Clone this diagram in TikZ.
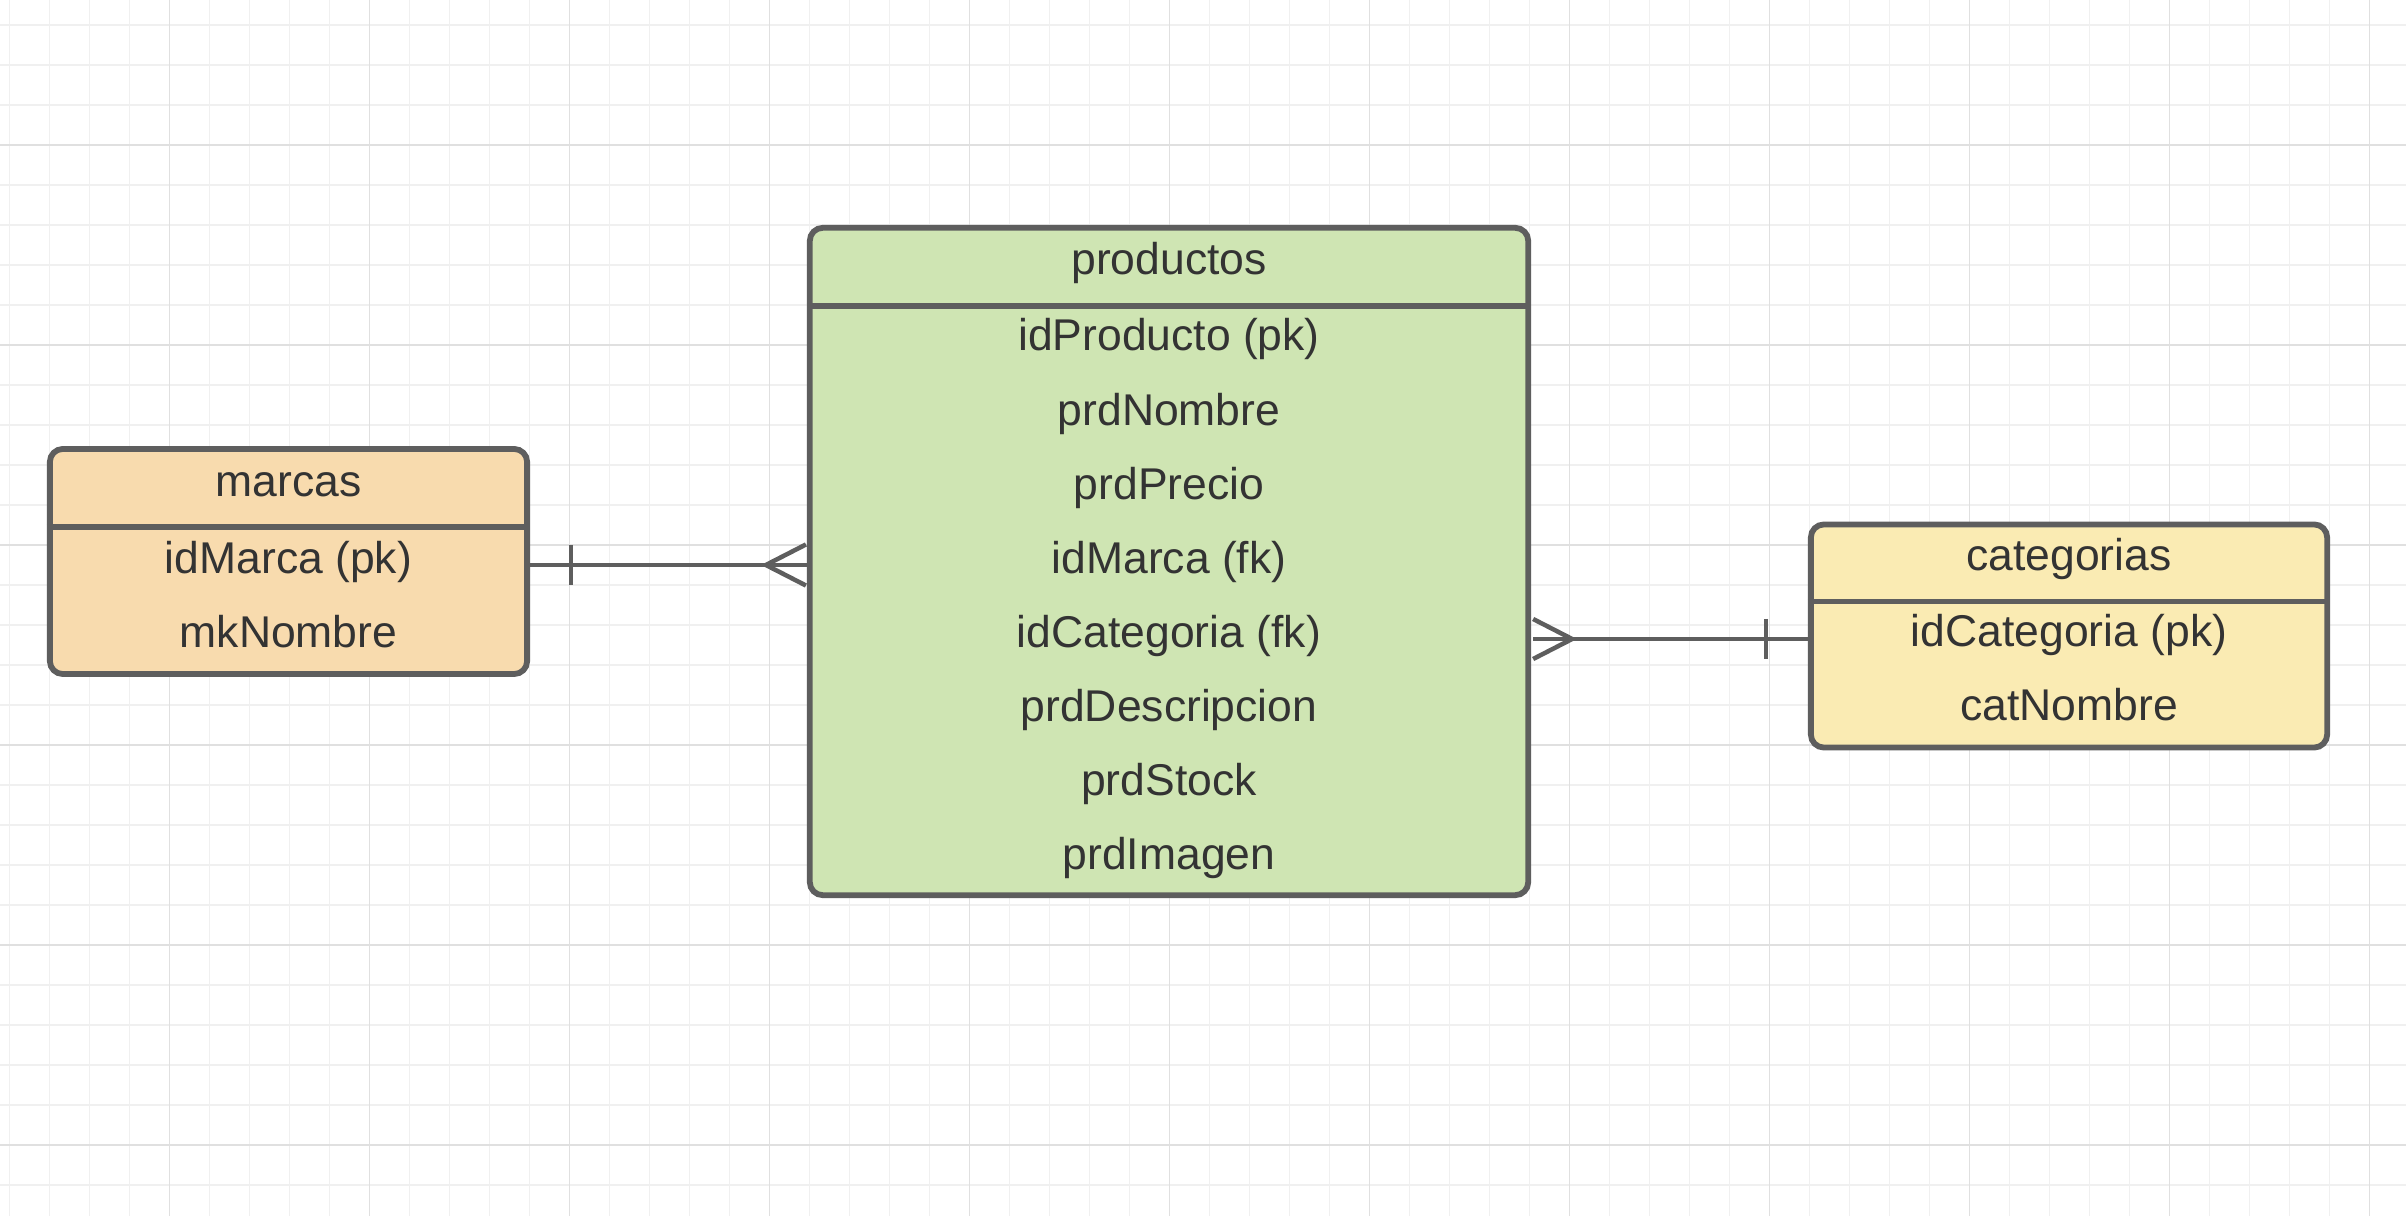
\documentclass[tikz,border=0pt]{standalone}
\usepackage{fontspec}
\setmainfont{Liberation Sans}
\usepackage{tikz}
\usetikzlibrary{calc}
\definecolor{tblborder}{HTML}{5E5E5E}
\definecolor{tbltext}{HTML}{333333}
\definecolor{mrcfill}{HTML}{F8DBAE}
\definecolor{prdfill}{HTML}{CFE5B3}
\definecolor{catfill}{HTML}{FAEBB3}
\definecolor{gridminor}{HTML}{F0F0F0}
\definecolor{gridmajor}{HTML}{E0E0E0}

\begin{document}
\begin{tikzpicture}[x=0.01cm, y=-0.01cm,
    tbl/.style={draw=tblborder, line width=0.058cm, rounded corners=0.13cm, inner sep=0pt},
    hdrule/.style={draw=tblborder, line width=0.055cm},
    fld/.style={anchor=base, inner sep=0pt, text=tbltext, font=\fontsize{12.65pt}{15pt}\selectfont},
    lnk/.style={draw=tblborder, line width=0.045cm}]
  \fill[white] (0,0) rectangle (2406,1216);
  \useasboundingbox (0,0) rectangle (2406,1216);
  % grid behind everything
  \foreach \gx in {9.5,49.5,...,2406} \draw[gridminor, line width=0.012cm] (\gx,0) -- (\gx,1216);
  \foreach \gy in {25,65,...,1216} \draw[gridminor, line width=0.012cm] (0,\gy) -- (2406,\gy);
  \foreach \gx in {169.5,369.5,...,2406} \draw[gridmajor, line width=0.015cm] (\gx,0) -- (\gx,1216);
  \foreach \gy in {145,345,...,1216} \draw[gridmajor, line width=0.015cm] (0,\gy) -- (2406,\gy);

  % tables
  \node[tbl, fill=mrcfill, minimum width=4.77cm, minimum height=2.25cm] (mrc) at (288.5,561.5) {};
  \node[tbl, fill=prdfill, minimum width=7.18cm, minimum height=6.67cm] (prd) at (1169,561.5) {};
  \node[tbl, fill=catfill, minimum width=5.16cm, minimum height=2.23cm] (cat) at (2069,636) {};
  \draw[hdrule] ([yshift=-0.81cm]mrc.north west) -- ([yshift=-0.81cm]mrc.north east);
  \draw[hdrule] ([yshift=-0.81cm]prd.north west) -- ([yshift=-0.81cm]prd.north east);
  \draw[hdrule] ([yshift=-0.80cm]cat.north west) -- ([yshift=-0.80cm]cat.north east);

  \node[fld] (mrct) at ([yshift=-0.50cm]mrc.north) {marcas};
  \node[fld] (mrc1) at ([yshift=-1.27cm]mrc.north) {idMarca (pk)};
  \node[fld] (mrc2) at ([yshift=-0.74cm]mrc1.base) {mkNombre};

  \node[fld] (prdt) at ([yshift=-0.50cm]prd.north) {productos};
  \node[fld] (prd1) at ([yshift=-1.26cm]prd.north) {idProducto (pk)};
  \node[fld] (prd2) at ([yshift=-0.74cm]prd1.base) {prdNombre};
  \node[fld] (prd3) at ([yshift=-0.74cm]prd2.base) {prdPrecio};
  \node[fld] (prd4) at ([yshift=-0.74cm]prd3.base) {idMarca (fk)};
  \node[fld] (prd5) at ([yshift=-0.74cm]prd4.base) {idCategoria (fk)};
  \node[fld] (prd6) at ([yshift=-0.74cm]prd5.base) {prdDescripcion};
  \node[fld] (prd7) at ([yshift=-0.74cm]prd6.base) {prdStock};
  \node[fld] (prd8) at ([yshift=-0.74cm]prd7.base) {prdImagen};

  \node[fld] (catt) at ([yshift=-0.49cm]cat.north) {categorias};
  \node[fld] (cat1) at ([yshift=-1.25cm]cat.north) {idCategoria (pk)};
  \node[fld] (cat2) at ([yshift=-0.74cm]cat1.base) {catNombre};

  % relations: one marca -- many productos, many productos -- one categoria
  \coordinate (ya) at (0,565);
  \coordinate (yb) at (0,639);
  \draw[lnk] (mrc.east |- ya) -- (prd.west |- ya);
  \draw[lnk] ($(mrc.east |- ya)+(41,-20)$) -- ($(mrc.east |- ya)+(41,20)$);
  \draw[lnk] ($(prd.west |- ya)+(-1,-20.5)$) -- ($(prd.west |- ya)+(-41,0)$) -- ($(prd.west |- ya)+(-1,20.5)$);
  \draw[lnk] ($(prd.east |- yb)+(2,0)$) -- (cat.west |- yb);
  \draw[lnk] ($(prd.east |- yb)+(2,-20)$) -- ($(prd.east |- yb)+(41,0)$) -- ($(prd.east |- yb)+(2,20)$);
  \draw[lnk] ($(cat.west |- yb)+(-42,-20)$) -- ($(cat.west |- yb)+(-42,20)$);
\end{tikzpicture}
\end{document}
